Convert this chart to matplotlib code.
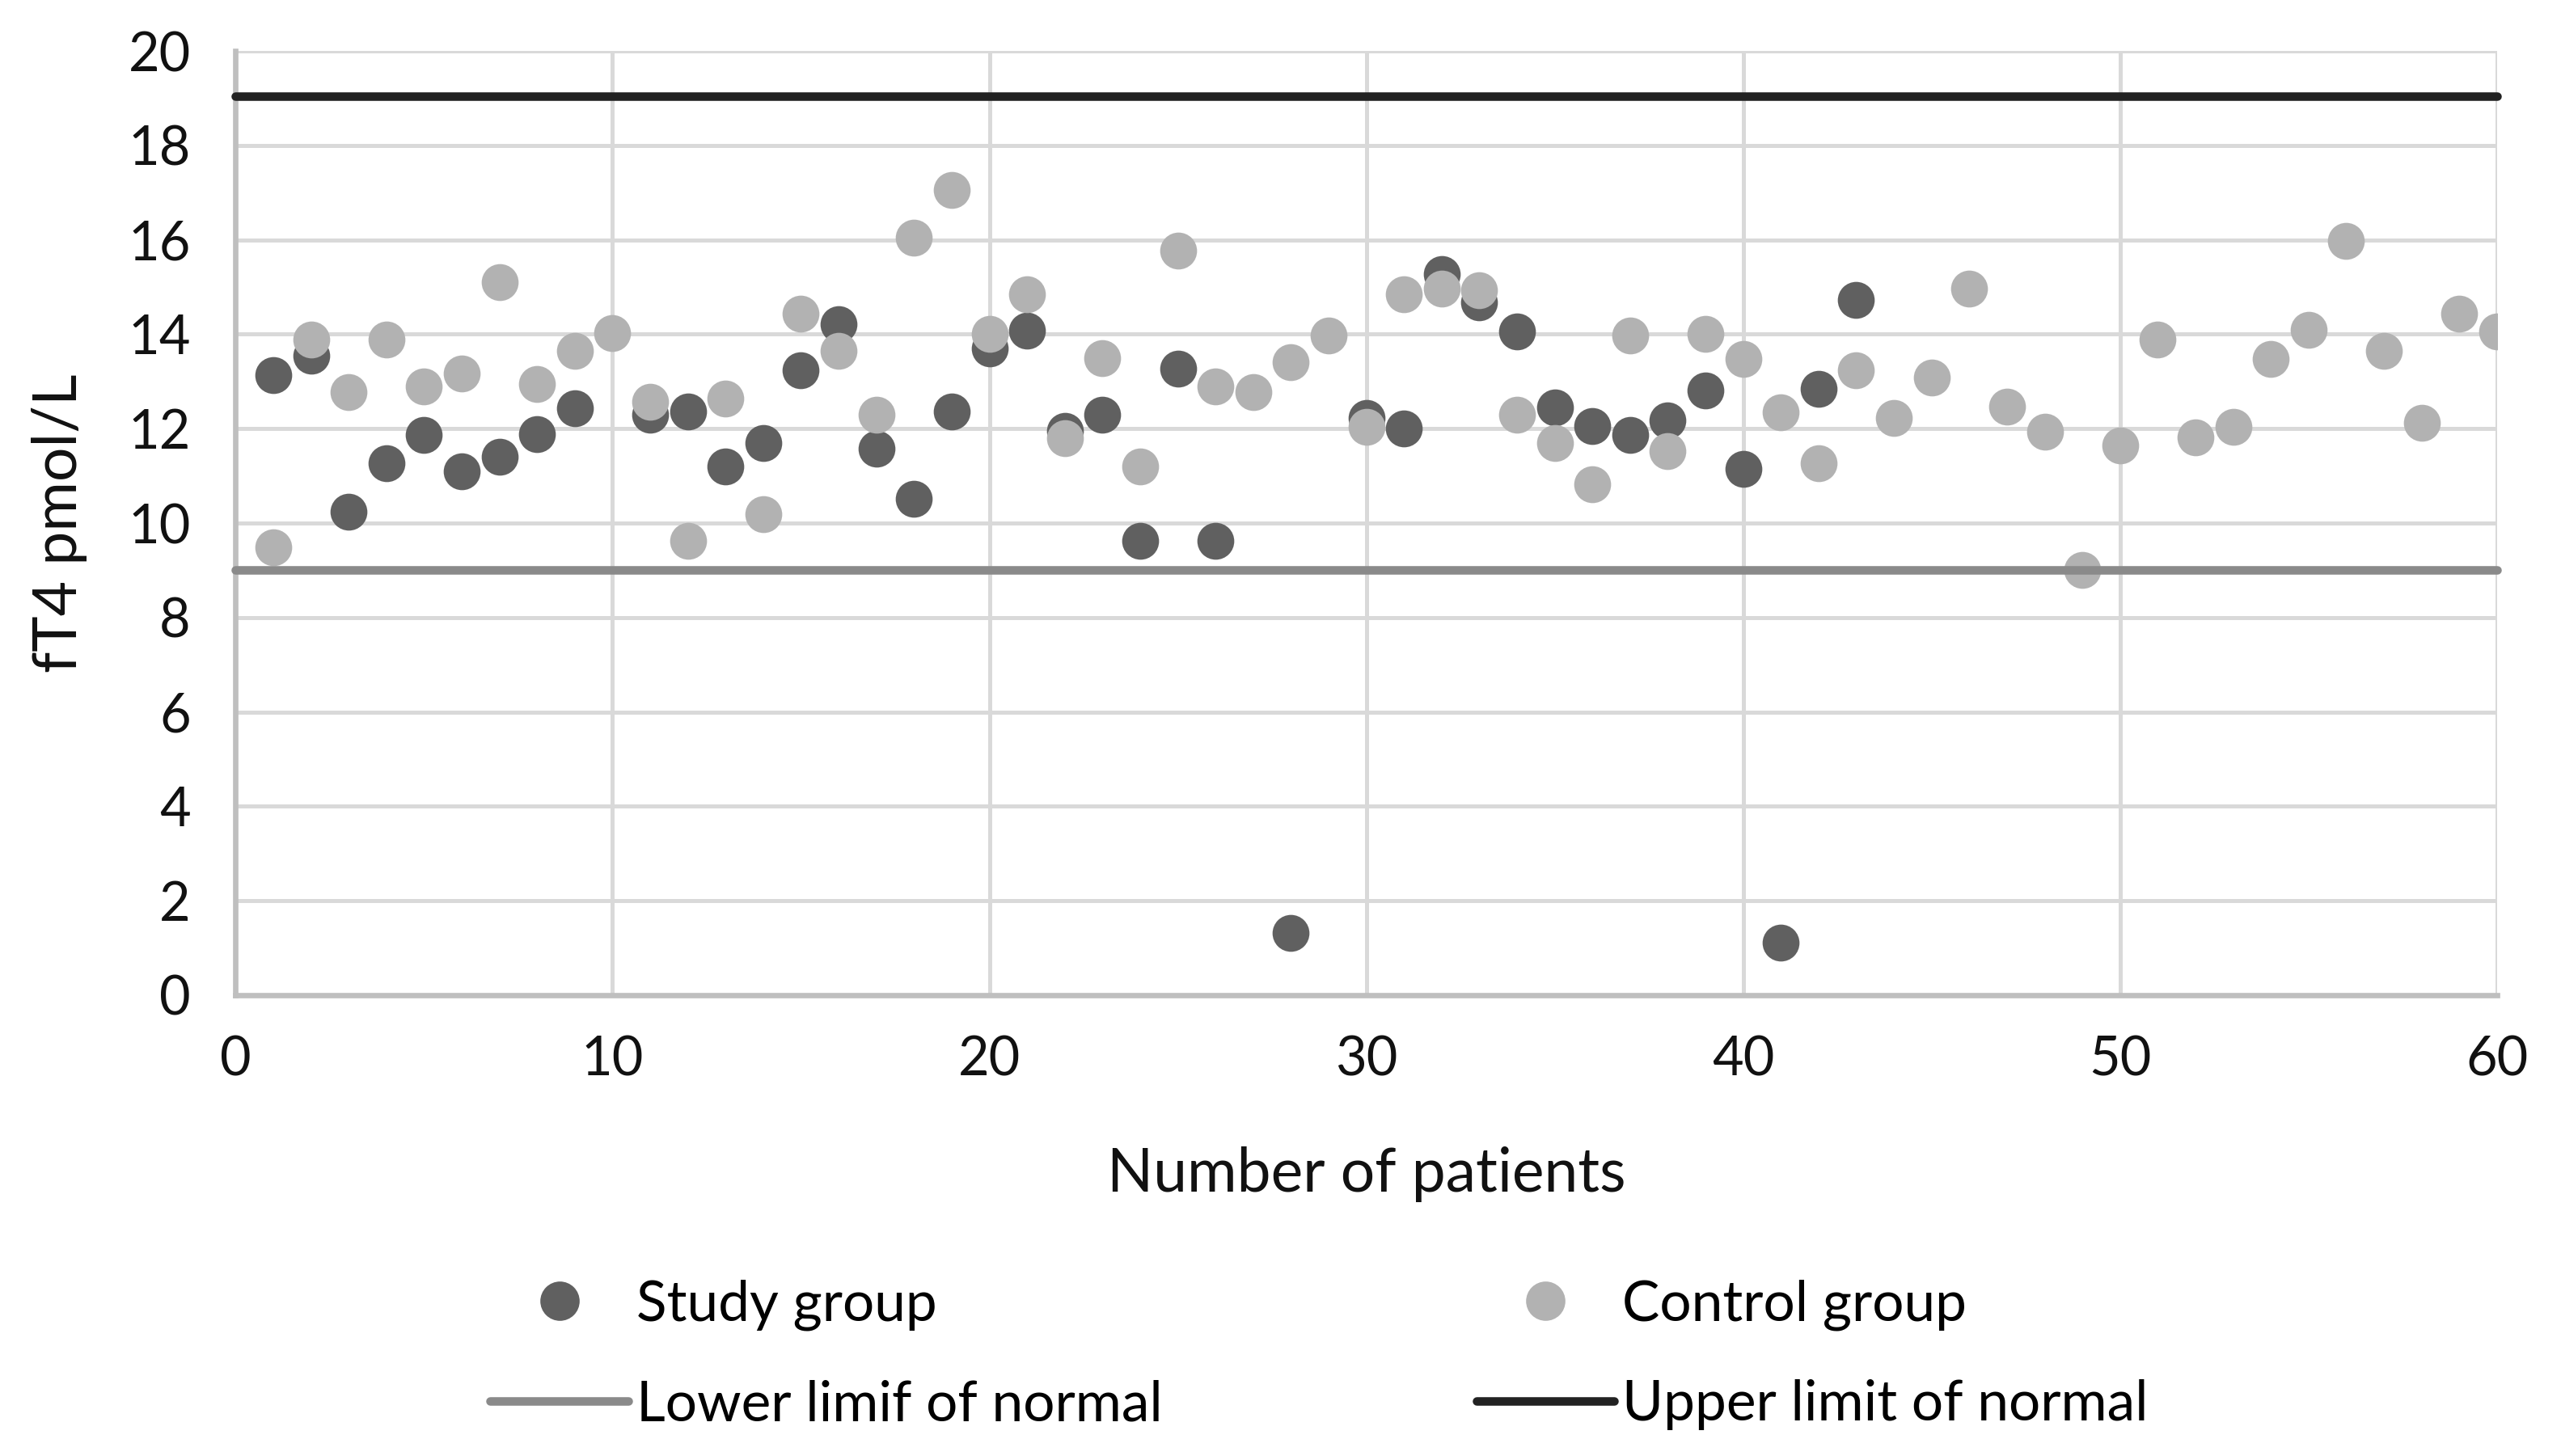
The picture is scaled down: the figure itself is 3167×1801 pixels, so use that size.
import matplotlib
matplotlib.use("Agg")
import matplotlib.pyplot as plt
from matplotlib.lines import Line2D

plt.rcParams['font.family'] = ['Lato', 'DejaVu Sans']

# fT4 values
study_x = [1, 2, 3, 4, 5, 6, 7, 8, 9, 11, 12, 13, 14, 15, 16, 17, 18, 19, 20,
           21, 22, 23, 24, 25, 26, 28, 30, 31, 32, 33, 34, 35, 36, 37, 38, 39,
           40, 41, 42, 43]
study_y = [13.13, 13.54, 10.24, 11.27, 11.86, 11.10, 11.41, 11.89, 12.44,
           12.29, 12.37, 11.20, 11.69, 13.23, 14.21, 11.58, 10.52, 12.37, 13.70,
           14.08, 11.96, 12.30, 9.63, 13.27, 9.63, 1.32, 12.23, 12.00, 15.28,
           14.67, 14.05, 12.45, 12.06, 11.86, 12.17, 12.81, 11.14, 1.11, 12.85,
           14.73]

control_x = list(range(1, 61))
control_y = [9.49, 13.88, 12.78, 13.88, 12.89, 13.16, 15.11, 12.95, 13.64, 14.02,
             12.57, 9.63, 12.64, 10.18, 14.43, 13.64, 12.30, 16.04, 17.06, 14.01,
             14.84, 11.79, 13.50, 11.20, 15.77, 12.89, 12.78, 13.40, 13.98, 12.03,
             14.84, 14.97, 14.94, 12.30, 11.69, 10.83, 13.98, 11.52, 14.01, 13.47,
             12.34, 11.27, 13.23, 12.23, 13.09, 14.97, 12.47, 11.93, 9.00, 11.65,
             13.88, 11.82, 12.03, 13.47, 14.09, 15.97, 13.64, 12.13, 14.43, 14.05]

limit_x = [0, 60]
lower_limit = [9.0, 9.0]
upper_limit = [19.05, 19.05]

x_ticks = [0, 10, 20, 30, 40, 50, 60]
y_ticks = [0, 2, 4, 6, 8, 10, 12, 14, 16, 18, 20]

STUDY_COL = '#606060'
CONTROL_COL = '#b2b2b2'
LOWER_COL = '#8a8a8a'
UPPER_COL = '#222222'
GRID_COL = '#d9d9d9'

fig = plt.figure(figsize=(15.835, 9.005), dpi=200)
ax = fig.add_axes([0.092, 0.3165, 0.883, 0.6485])

ax.scatter(study_x, study_y, s=270, color=STUDY_COL, linewidths=0, zorder=3)
ax.scatter(control_x, control_y, s=270, color=CONTROL_COL, linewidths=0, zorder=4)
ax.plot(limit_x, lower_limit, color=LOWER_COL, lw=3.8, zorder=5,
        solid_capstyle='round', clip_on=False)
ax.plot(limit_x, upper_limit, color=UPPER_COL, lw=3.8, zorder=5,
        solid_capstyle='round', clip_on=False)

ax.set_xlim(0, 60)
ax.set_ylim(0, 20)
ax.set_xticks(x_ticks)
ax.set_yticks(y_ticks)
ax.grid(True, color=GRID_COL, lw=1.8, zorder=0)
ax.set_axisbelow(True)
for side in ['top', 'right']:
    ax.spines[side].set_visible(False)
for side in ['left', 'bottom']:
    ax.spines[side].set_color('#bfbfbf')
    ax.spines[side].set_linewidth(2.4)
ax.tick_params(length=0, labelsize=24, colors='#111111')
ax.tick_params(axis='y', pad=20)
ax.tick_params(axis='x', pad=18)

ax.set_xlabel('Number of patients', fontsize=27, labelpad=27, color='#111111')
ax.set_ylabel('fT4 pmol/L', fontsize=27, labelpad=18, color='#111111')

study_h = Line2D([], [], ls='none', marker='o', ms=16.5, color=STUDY_COL)
control_h = Line2D([], [], ls='none', marker='o', ms=16.5, color=CONTROL_COL)
lower_h = Line2D([], [], color=LOWER_COL, lw=3.8, solid_capstyle='round')
upper_h = Line2D([], [], color=UPPER_COL, lw=3.8, solid_capstyle='round')

legend_kw = dict(frameon=False, fontsize=25, handlelength=2.45, handletextpad=0.15,
                 labelspacing=0.87, borderpad=0, borderaxespad=0, loc='upper left')
fig.legend([study_h, lower_h], ['Study group', 'Lower limif of normal'],
           bbox_to_anchor=(0.1915, 0.1215), **legend_kw)
fig.legend([control_h, upper_h], ['Control group', 'Upper limit of normal'],
           bbox_to_anchor=(0.5765, 0.1215), **legend_kw)

fig.savefig('out.png', dpi=200)
